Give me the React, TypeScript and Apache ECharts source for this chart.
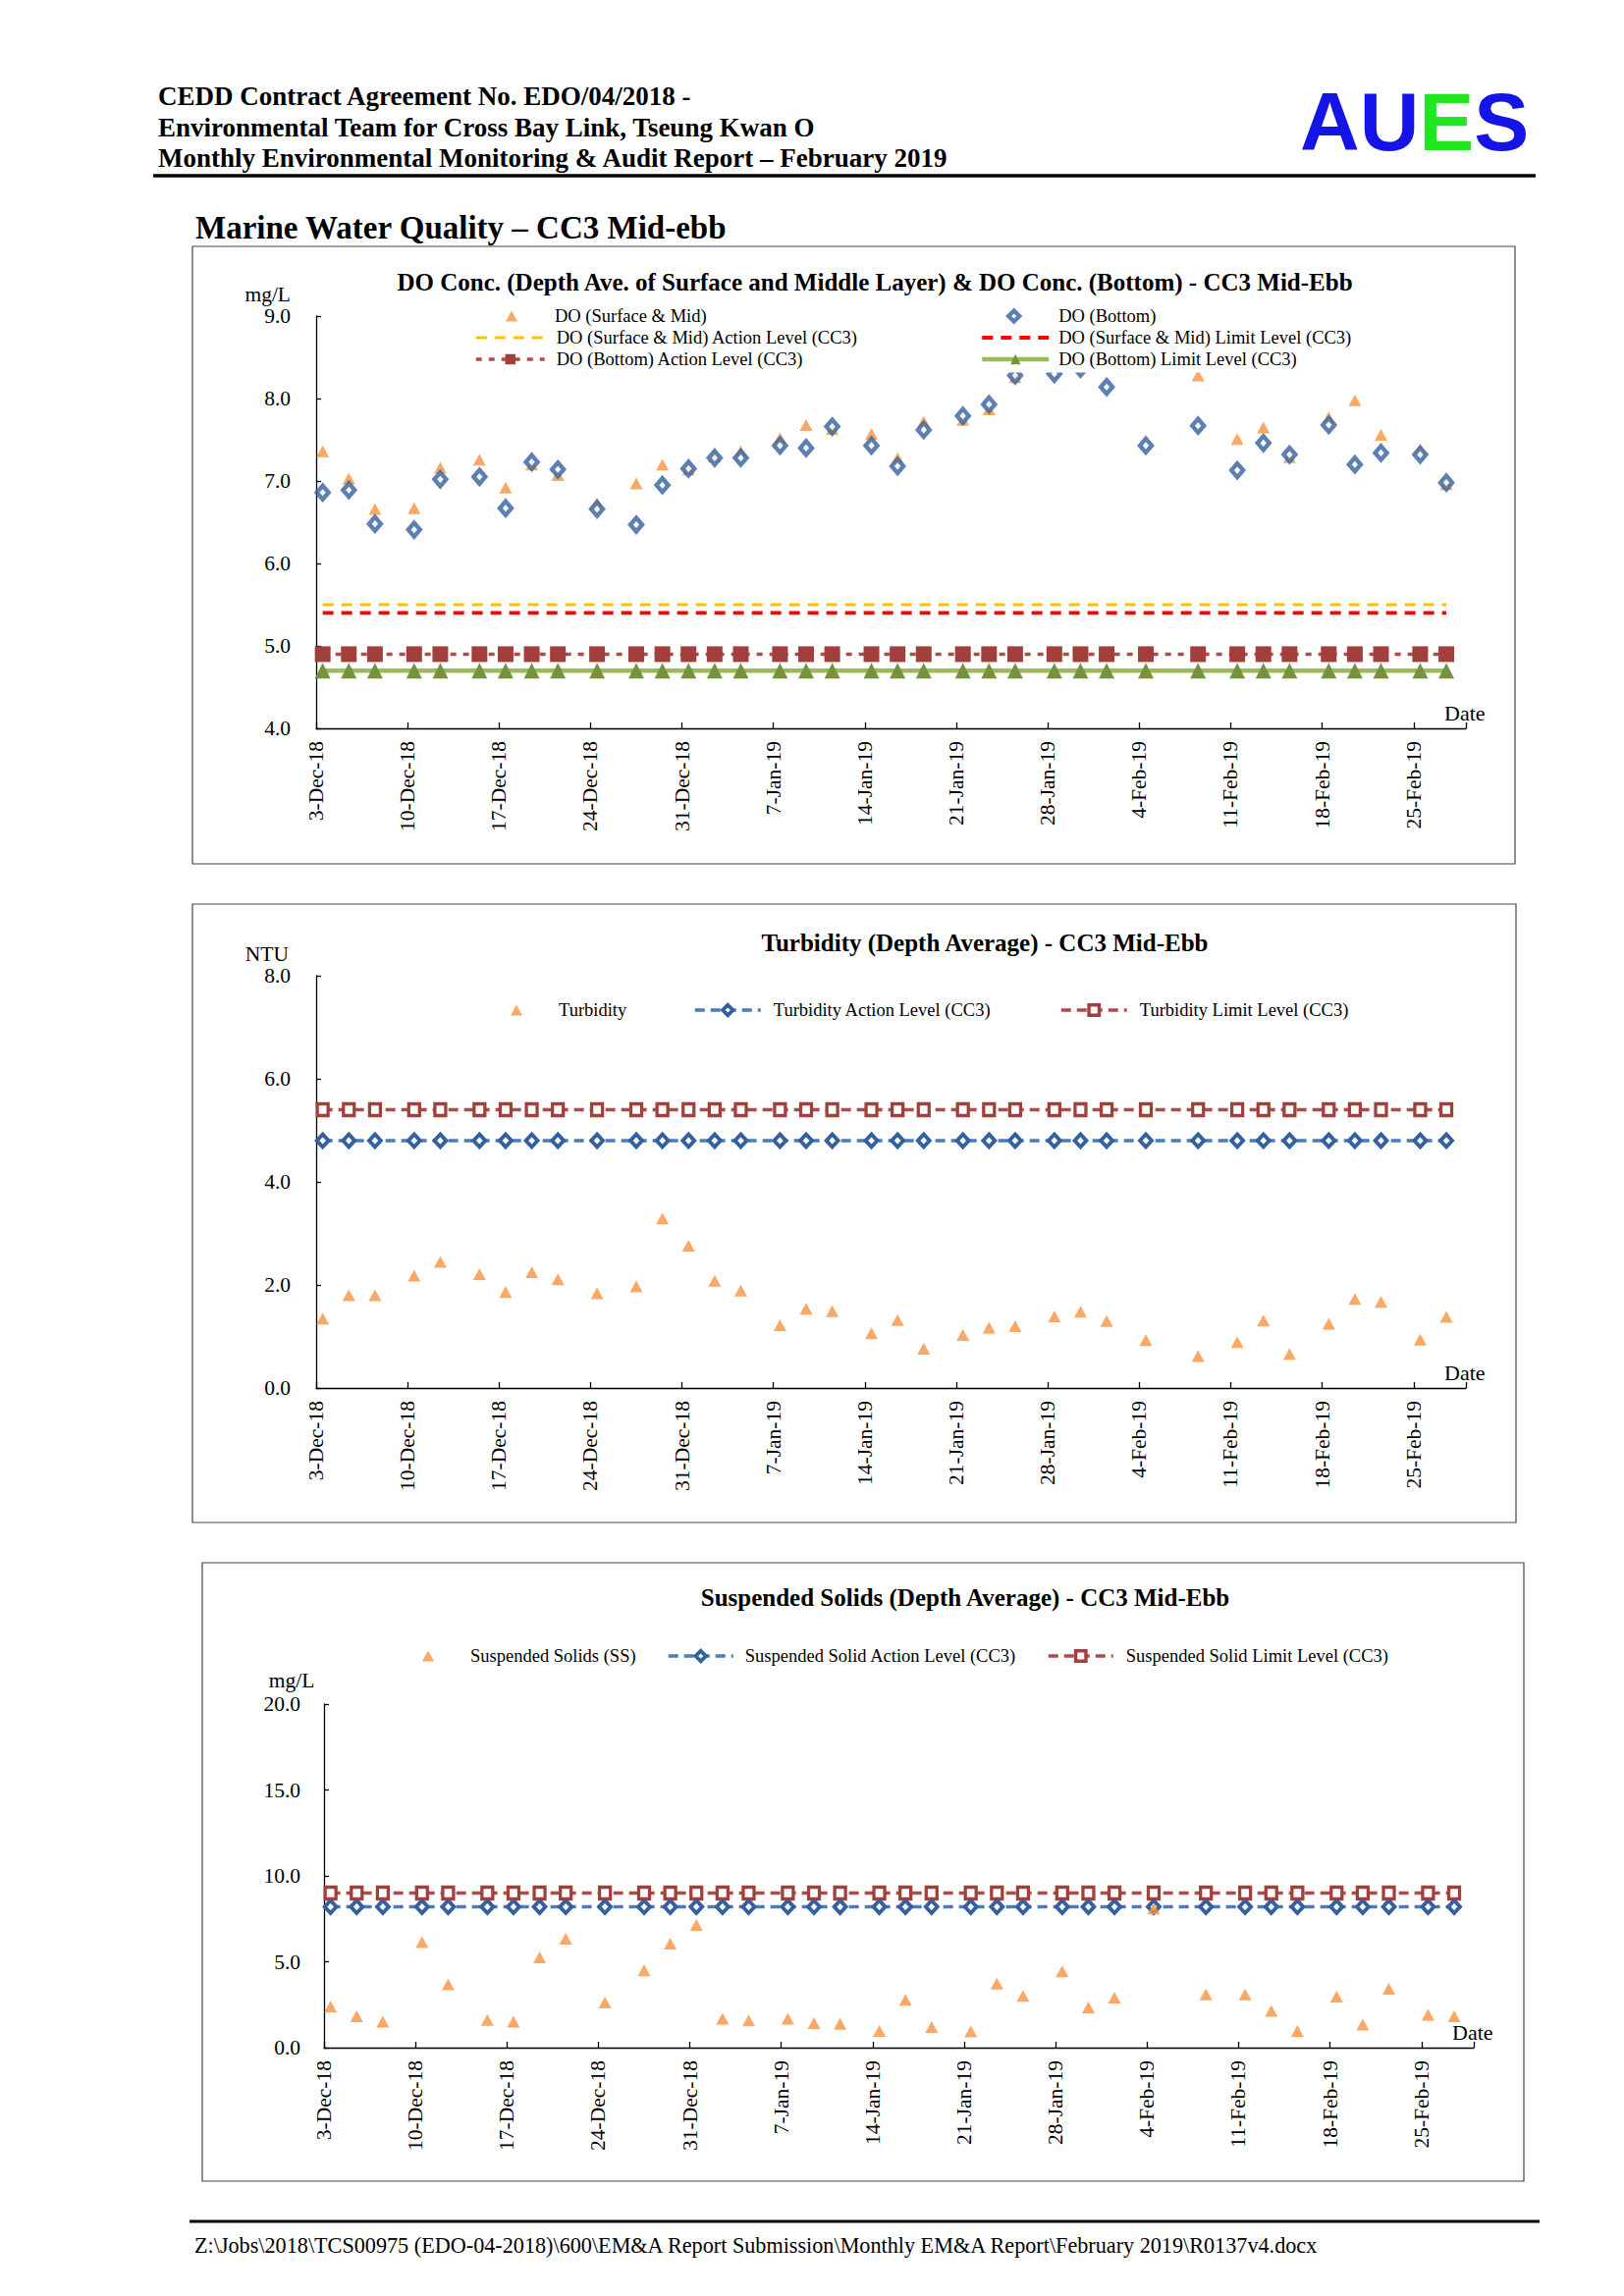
import React, { useEffect, useRef } from 'react';
import * as echarts from 'echarts';

// ---------- data ----------
const AXIS_START = '2018-12-03';
const AXIS_DAYS = 88;
const TICK_DAYS = 7;
const MONTHS = ['Jan', 'Feb', 'Mar', 'Apr', 'May', 'Jun', 'Jul', 'Aug', 'Sep', 'Oct', 'Nov', 'Dec'];

const SAMPLE_DATES = [
  '2018-12-03', '2018-12-05', '2018-12-07', '2018-12-10', '2018-12-12', '2018-12-15', '2018-12-17',
  '2018-12-19', '2018-12-21', '2018-12-24', '2018-12-27', '2018-12-29', '2018-12-31', '2019-01-02',
  '2019-01-04', '2019-01-07', '2019-01-09', '2019-01-11', '2019-01-14', '2019-01-16', '2019-01-18',
  '2019-01-21', '2019-01-23', '2019-01-25', '2019-01-28', '2019-01-30', '2019-02-01', '2019-02-04',
  '2019-02-08', '2019-02-11', '2019-02-13', '2019-02-15', '2019-02-18', '2019-02-20', '2019-02-22',
  '2019-02-25', '2019-02-27',
];

const DO_SURFACE_MID = [
  7.36, 7.03, 6.66, 6.67, 7.16, 7.26, 6.92, 7.2, 7.07, 6.73, 6.97, 7.2, 7.14, 7.3,
  7.36, 7.52, 7.68, 7.63, 7.57, 7.28, 7.72, 7.74, 7.87, 8.26, 8.55, 8.6, 8.5, 8.65,
  8.28, 7.51, 7.65, 7.29, 7.77, 7.98, 7.56, 7.38, 6.96,
];
const DO_BOTTOM = [
  6.86, 6.89, 6.48, 6.41, 7.02, 7.05, 6.67, 7.23, 7.14, 6.66, 6.47, 6.95, 7.15, 7.28,
  7.28, 7.43, 7.4, 7.66, 7.43, 7.18, 7.62, 7.79, 7.93, 8.28, 8.3, 8.36, 8.14, 7.43,
  7.67, 7.13, 7.46, 7.32, 7.68, 7.2, 7.34, 7.32, 6.98,
];
const TURBIDITY = [
  1.35, 1.8, 1.8, 2.18, 2.45, 2.21, 1.86, 2.25, 2.11, 1.84, 1.97, 3.29, 2.76, 2.08,
  1.89, 1.22, 1.54, 1.49, 1.06, 1.32, 0.76, 1.03, 1.17, 1.2, 1.39, 1.48, 1.3, 0.93,
  0.62, 0.89, 1.31, 0.66, 1.25, 1.73, 1.67, 0.94, 1.38,
];
const SUSPENDED_SOLIDS = [
  2.38, 1.83, 1.52, 6.15, 3.68, 1.62, 1.52, 5.26, 6.34, 2.63, 4.5, 6.06, 7.14, 1.68,
  1.58, 1.68, 1.43, 1.39, 0.97, 2.78, 1.2, 0.95, 3.73, 3.01, 4.44, 2.34, 2.91, 8.1,
  3.1, 3.1, 2.15, 0.97, 2.97, 1.35, 3.43, 1.92, 1.83,
];

const DO_SM_ACTION = 5.5;
const DO_SM_LIMIT = 5.4;
const DO_BOTTOM_ACTION = 4.9;
const DO_BOTTOM_LIMIT = 4.7;
const TURB_ACTION = 4.8;
const TURB_LIMIT = 5.4;
const SS_ACTION = 8.2;
const SS_LIMIT = 9.0;

const DO_Y = { min: 4, max: 9, interval: 1 };
const TURB_Y = { min: 0, max: 8, interval: 2 };
const SS_Y = { min: 0, max: 20, interval: 5 };

const HEADER_LINES = [
  'CEDD Contract Agreement No. EDO/04/2018 -',
  'Environmental Team for Cross Bay Link, Tseung Kwan O',
  'Monthly Environmental Monitoring & Audit Report \u2013 February 2019',
];
const SECTION_TITLE = 'Marine Water Quality \u2013 CC3 Mid-ebb';
const FOOTER_TEXT =
  'Z:\\Jobs\\2018\\TCS00975 (EDO-04-2018)\\600\\EM&A Report Submission\\Monthly EM&A Report\\February 2019\\R0137v4.docx';

const TITLES = [
  'DO Conc. (Depth Ave. of Surface and Middle Layer) & DO Conc. (Bottom) - CC3 Mid-Ebb',
  'Turbidity (Depth Average) - CC3 Mid-Ebb',
  'Suspended Solids (Depth Average) - CC3 Mid-Ebb',
];

// ---------- helpers ----------
const FONT = '"Liberation Serif", "Times New Roman", serif';
const MS_DAY = 86400000;

function utcOf(iso: string): number {
  const [y, m, d] = iso.split('-').map(Number);
  return Date.UTC(y, m - 1, d);
}
const START_MS = utcOf(AXIS_START);

function dayPos(iso: string): number {
  return (utcOf(iso) - START_MS) / MS_DAY + 0.5;
}
function fmtTick(v: number): string {
  const r = Math.round(v);
  if (r % TICK_DAYS !== 0 || r >= AXIS_DAYS) return '';
  const dt = new Date(START_MS + r * MS_DAY);
  return `${dt.getUTCDate()}-${MONTHS[dt.getUTCMonth()]}-${String(dt.getUTCFullYear()).slice(2)}`;
}
function points(values: number[]) {
  return SAMPLE_DATES.map((d, i) => [dayPos(d), values[i]]);
}
function levelPoints(level: number) {
  return SAMPLE_DATES.map((d) => [dayPos(d), level]);
}

const C_ORANGE = '#F7923F';
const C_BLUE_MK = '#33609F';
const C_BLUE_LN = '#4A7BBB';
const C_BROWN = '#A23E3C';
const C_BROWN_LN = '#B04B49';
const C_GREEN_LN = '#9BBB59';
const C_GREEN_MK = '#76923C';

function buildOption() {
  const grids = [
    { left: 322, top: 322, width: 1171, height: 420 },
    { left: 322, top: 994, width: 1171, height: 420 },
    { left: 330, top: 1736, width: 1171, height: 350 },
  ].map((g) => ({ ...g, containLabel: false, outerBoundsMode: 'none' }));

  const axisLineStyle = { color: '#000', width: 1.3 };

  const xAxes = [0, 1, 2].map((i) => ({
    type: 'value',
    gridIndex: i,
    min: 0,
    max: AXIS_DAYS,
    interval: TICK_DAYS,
    axisLine: { show: true, onZero: false, lineStyle: axisLineStyle },
    axisTick: { show: true, inside: true, length: 6, lineStyle: axisLineStyle },
    splitLine: { show: false },
    axisLabel: {
      rotate: 90,
      margin: 13,
      fontSize: 21.5,
      fontFamily: FONT,
      color: '#000',
      padding: [14, 0, 0, 0],
      formatter: fmtTick,
    },
    name: 'Date',
    nameLocation: 'end',
    nameGap: -22,
    nameTextStyle: {
      fontSize: 22,
      fontFamily: FONT,
      color: '#000',
      verticalAlign: 'bottom',
      padding: [0, 0, 5, 0],
    },
  }));

  const yDefs = [
    { ...DO_Y, name: 'mg/L', gap: 4, align: 'right', pad: [0, 26, 0, 0], margin: 26 },
    { ...TURB_Y, name: 'NTU', gap: 6, align: 'right', pad: [0, 28, 0, 0], margin: 26 },
    { ...SS_Y, name: 'mg/L', gap: 13, align: 'center', pad: [0, 66, 0, 0], margin: 24 },
  ];
  const yAxes = yDefs.map((d, i) => ({
    type: 'value',
    gridIndex: i,
    min: d.min,
    max: d.max,
    interval: d.interval,
    axisLine: { show: true, lineStyle: axisLineStyle },
    axisTick: { show: true, inside: true, length: 5, lineStyle: axisLineStyle },
    splitLine: { show: false },
    axisLabel: {
      margin: d.margin,
      fontSize: 21.5,
      fontFamily: FONT,
      color: '#000',
      formatter: (v: number) => v.toFixed(1),
    },
    name: d.name,
    nameLocation: 'end',
    nameGap: d.gap,
    nameTextStyle: {
      fontSize: 21.5,
      fontFamily: FONT,
      color: '#000',
      align: d.align,
      verticalAlign: 'bottom',
      padding: d.pad,
    },
  }));

  const tri = (name: string, axis: number, values: number[]) => ({
    name,
    type: 'scatter',
    xAxisIndex: axis,
    yAxisIndex: axis,
    symbol: 'triangle',
    symbolSize: [13, 12],
    itemStyle: { color: C_ORANGE },
    data: points(values),
    z: 3,
  });

  const level = (
    name: string,
    axis: number,
    value: number,
    lineColor: string,
    width: number,
    dash: any,
    symbol: string,
    symbolSize: any,
    itemStyle: any
  ) => ({
    name,
    type: 'line',
    xAxisIndex: axis,
    yAxisIndex: axis,
    data: levelPoints(value),
    symbol,
    symbolSize,
    showSymbol: symbol !== 'none',
    showAllSymbol: true,
    lineStyle: { color: lineColor, width, type: dash },
    itemStyle,
    z: 2,
  });

  const hollowBlue = { color: '#ffffff', borderColor: C_BLUE_MK, borderWidth: 3.8 };
  const hollowBrown = { color: '#ffffff', borderColor: C_BROWN, borderWidth: 3.4 };

  const series = [
    tri('DO (Surface & Mid)', 0, DO_SURFACE_MID),
    {
      name: 'DO (Bottom)',
      type: 'scatter',
      xAxisIndex: 0,
      yAxisIndex: 0,
      symbol: 'diamond',
      symbolSize: [12, 14],
      itemStyle: { color: '#ffffff', borderColor: C_BLUE_MK, borderWidth: 4.4 },
      data: points(DO_BOTTOM),
      z: 3,
    },
    level('DO (Surface & Mid) Action Level (CC3)', 0, DO_SM_ACTION, '#FFC000', 3, [11, 8], 'none', 0, { color: '#FFC000' }),
    level('DO (Surface & Mid) Limit Level (CC3)', 0, DO_SM_LIMIT, '#FF0000', 3.8, [11, 8], 'none', 0, { color: '#FF0000' }),
    level('DO (Bottom) Action Level (CC3)', 0, DO_BOTTOM_ACTION, C_BROWN_LN, 3.5, [6, 7], 'rect', [16, 16], { color: C_BROWN }),
    level('DO (Bottom) Limit Level (CC3)', 0, DO_BOTTOM_LIMIT, C_GREEN_LN, 4.5, 'solid', 'triangle', [16, 16], { color: C_GREEN_MK }),

    tri('Turbidity', 1, TURBIDITY),
    level('Turbidity Action Level (CC3)', 1, TURB_ACTION, C_BLUE_LN, 3.5, [10, 6], 'diamond', [12, 13], hollowBlue),
    level('Turbidity Limit Level (CC3)', 1, TURB_LIMIT, C_BROWN_LN, 3.5, [10, 6], 'rect', [11, 12], hollowBrown),

    tri('Suspended Solids (SS)', 2, SUSPENDED_SOLIDS),
    level('Suspended Solid Action Level (CC3)', 2, SS_ACTION, C_BLUE_LN, 3.5, [10, 6], 'diamond', [12, 13], hollowBlue),
    level('Suspended Solid Limit Level (CC3)', 2, SS_LIMIT, C_BROWN_LN, 3.5, [10, 6], 'rect', [11, 12], hollowBrown),
  ];

  const legendText = (pad: number) => ({
    fontSize: 18.5,
    fontFamily: FONT,
    color: '#000',
    lineHeight: 19,
    padding: [0, 0, 0, pad],
  });
  const legendBase = {
    orient: 'vertical',
    selectedMode: false,
    z: 10,
    itemStyle: { borderWidth: 'inherit' },
    lineStyle: { width: 'inherit' },
  };
  const noSym = { opacity: 0 };

  const single = (name: string, iconLeft: number, iconW: number, iconH: number, textX: number, cy: number, bg = false) => ({
    ...legendBase,
    left: bg ? iconLeft - 8 : iconLeft,
    top: bg ? cy - 9.5 - 4 : cy - 9.5,
    padding: bg ? [4, 12, 4, 8] : 0,
    backgroundColor: bg ? '#ffffff' : 'transparent',
    itemWidth: iconW,
    itemHeight: iconH,
    data: [{ name }],
    textStyle: legendText(textX - iconLeft - iconW - 5),
  });

  const legends = [
    single('DO (Surface & Mid)', 515, 12, 11, 565, 322, true),
    single('DO (Bottom)', 1025, 11, 11, 1076, 322, true),
    {
      ...legendBase,
      left: 475,
      top: 344 - 9.5 - 4,
      padding: [4, 12, 4, 8],
      backgroundColor: '#ffffff',
      itemWidth: 70,
      itemHeight: 13,
      itemGap: 3,
      data: [
        { name: 'DO (Surface & Mid) Action Level (CC3)', itemStyle: noSym },
        { name: 'DO (Bottom) Action Level (CC3)' },
      ],
      textStyle: legendText(7),
    },
    {
      ...legendBase,
      left: 990,
      top: 344 - 9.5 - 8,
      padding: [8, 12, 4, 8],
      backgroundColor: '#ffffff',
      itemWidth: 68,
      itemHeight: 13,
      itemGap: 3,
      data: [
        { name: 'DO (Surface & Mid) Limit Level (CC3)', itemStyle: noSym },
        { name: 'DO (Bottom) Limit Level (CC3)' },
      ],
      textStyle: legendText(5),
    },
    single('Turbidity', 520, 12, 11, 569, 1029),
    single('Turbidity Action Level (CC3)', 706, 67, 13, 786, 1029),
    single('Turbidity Limit Level (CC3)', 1079, 67, 13, 1159, 1029),
    single('Suspended Solids (SS)', 430, 12, 11, 479, 1687),
    single('Suspended Solid Action Level (CC3)', 679, 66, 13, 757, 1687),
    single('Suspended Solid Limit Level (CC3)', 1066, 66, 13, 1145, 1687),
  ];

  const titlePos = [
    { x: 891, y: 287 },
    { x: 1003, y: 960 },
    { x: 983, y: 1627 },
  ];
  const titles = TITLES.map((t, i) => ({
    text: t,
    left: titlePos[i].x,
    top: titlePos[i].y,
    textAlign: 'center',
    textVerticalAlign: 'middle',
    padding: 0,
    textStyle: { fontSize: 25, fontWeight: 'bold', fontFamily: FONT, color: '#000' },
  }));

  const txt = (text: string, x: number, y: number, size: number, bold: boolean) => ({
    type: 'text',
    x,
    y,
    silent: true,
    style: {
      text,
      fontSize: size,
      fontFamily: FONT,
      fontWeight: bold ? 'bold' : 'normal',
      fill: '#000',
      align: 'left',
      verticalAlign: 'middle',
    },
  });
  const box = (x: number, y: number, w: number, h: number) => ({
    type: 'rect',
    silent: true,
    shape: { x, y, width: w, height: h },
    style: { fill: 'none', stroke: '#444', lineWidth: 1.2 },
  });
  const LOGO_FONT = '"Liberation Sans", Arial, sans-serif';

  const graphics = [
    txt(HEADER_LINES[0], 161, 98, 27, true),
    txt(HEADER_LINES[1], 161, 130, 27, true),
    txt(HEADER_LINES[2], 161, 161, 27, true),
    {
      type: 'text',
      x: 1324,
      y: 124,
      silent: true,
      style: {
        text: '{b|AU}{g|E}{b|S}',
        align: 'left',
        verticalAlign: 'middle',
        rich: {
          b: { fill: '#1414E6', fontSize: 84, fontWeight: 'bold', fontFamily: LOGO_FONT },
          g: { fill: '#22E622', fontSize: 84, fontWeight: 'bold', fontFamily: LOGO_FONT },
        },
      },
    },
    {
      type: 'line',
      silent: true,
      shape: { x1: 156, y1: 179, x2: 1564, y2: 179 },
      style: { stroke: '#000', lineWidth: 3.5 },
    },
    txt(SECTION_TITLE, 199, 232, 33, true),
    box(196, 251, 1347, 629),
    box(196, 921, 1348, 630),
    box(206, 1592, 1346, 630),
    {
      type: 'line',
      silent: true,
      shape: { x1: 193, y1: 2263, x2: 1568, y2: 2263 },
      style: { stroke: '#000', lineWidth: 3 },
    },
    txt(FOOTER_TEXT, 198, 2287, 22.2, false),
  ];

  return {
    animation: false,
    backgroundColor: '#ffffff',
    textStyle: { fontFamily: FONT, color: '#000' },
    title: titles,
    grid: grids,
    xAxis: xAxes,
    yAxis: yAxes,
    legend: legends,
    series,
    graphic: { elements: graphics },
  };
}

export default function App() {
  const ref = useRef<HTMLDivElement>(null);
  useEffect(() => {
    if (!ref.current) return;
    const chart = echarts.init(ref.current, undefined, { renderer: 'svg' });
    chart.setOption(buildOption() as any);
    return () => chart.dispose();
  }, []);
  return (
    <div
      ref={ref}
      style={{ position: 'absolute', left: 0, top: 0, width: 1654, height: 2339, background: '#fff' }}
    />
  );
}
